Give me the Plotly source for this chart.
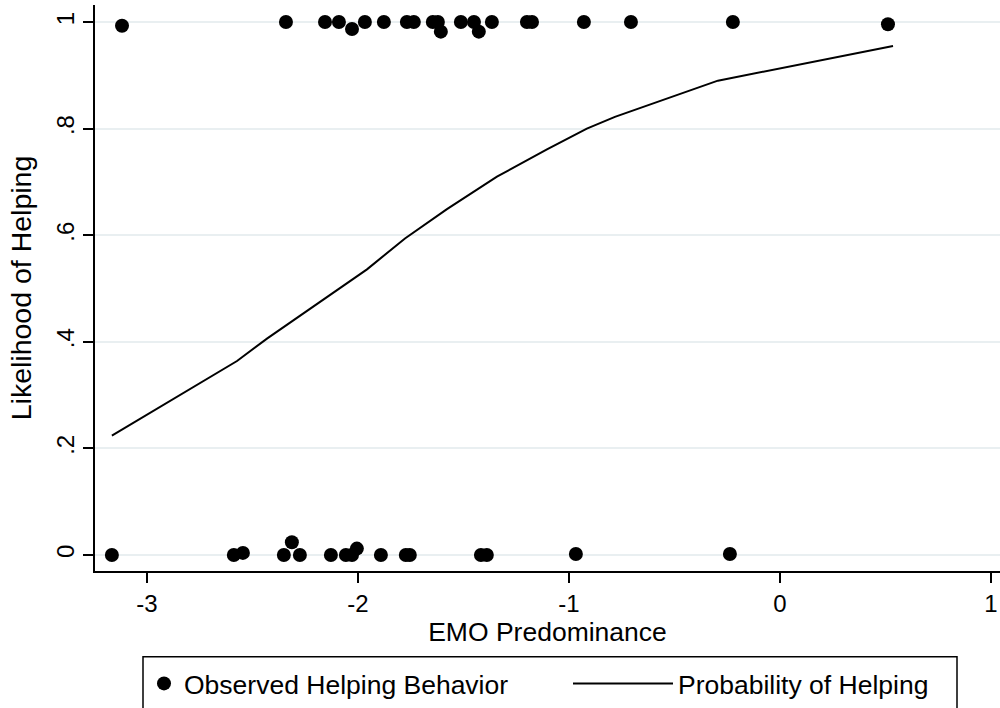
import plotly.graph_objects as go

# Observed helping behaviour (jittered display positions)
helped_x = [-3.118, -2.341, -2.156, -2.090, -2.028, -1.967, -1.877, -1.768, -1.735,
            -1.645, -1.621, -1.607, -1.512, -1.450, -1.427, -1.365, -1.199, -1.175,
            -0.929, -0.706, -0.223, 0.512]
helped_y = [0.993, 1.0, 1.0, 1.0, 0.987, 1.0, 1.0, 1.0, 1.0,
            1.0, 1.0, 0.982, 1.0, 1.0, 0.982, 1.0, 1.0, 1.0,
            1.0, 1.0, 1.0, 0.996]

not_helped_x = [-3.166, -2.588, -2.545, -2.351, -2.313, -2.275, -2.128, -2.057, -2.028,
                -2.005, -1.891, -1.773, -1.754, -1.417, -1.389, -0.967, -0.237]
not_helped_y = [0.0, 0.0, 0.004, 0.0, 0.024, 0.0, 0.0, 0.0, 0.0,
                0.012, 0.0, 0.0, 0.0, 0.0, 0.0, 0.002, 0.002]

# Predicted probability of helping
prob_x = [-3.166, -2.573, -2.431, -2.147, -1.957, -1.777, -1.578, -1.341, -1.104,
          -0.915, -0.782, -0.294, 0.536]
prob_y = [0.224, 0.364, 0.406, 0.484, 0.536, 0.594, 0.649, 0.710, 0.761,
          0.800, 0.822, 0.890, 0.955]

x_ticks = [-3, -2, -1, 0, 1]
y_ticks = [0, 0.2, 0.4, 0.6, 0.8, 1]
y_tick_text = ["0", ".2", ".4", ".6", ".8", "1"]

FONT = "Liberation Sans, Arial, Helvetica, sans-serif"

fig = go.Figure()
fig.add_trace(go.Scatter(
    x=helped_x + not_helped_x, y=helped_y + not_helped_y,
    mode="markers", name="Observed Helping Behavior",
    marker=dict(color="black", size=14, line=dict(width=0)),
    legend="legend",
))
fig.add_trace(go.Scatter(
    x=prob_x, y=prob_y, mode="lines", name="Probability of Helping",
    line=dict(color="black", width=2),
    legend="legend2",
))

W, H = 1000, 708
ml, mr, mt, mb = 95, 0, 5, 135
pw, ph = W - ml - mr, H - mt - mb


def px_to_paper_x(px):
    return (px - ml) / pw


def px_to_paper_y(py):
    return (H - mb - py) / ph


fig.update_layout(
    width=W, height=H,
    margin=dict(l=ml, r=mr, t=mt, b=mb, pad=0),
    paper_bgcolor="white", plot_bgcolor="white",
    font=dict(family=FONT, color="black", size=24),
    xaxis=dict(
        range=[-3.246, 1.043], tickvals=x_ticks,
        ticktext=[str(v) for v in x_ticks],
        showgrid=False, zeroline=False,
        showline=True, linecolor="black", linewidth=1.5,
        ticks="outside", ticklen=10, tickwidth=1.5, tickcolor="black",
        tickfont=dict(size=24),
        title=dict(text="EMO Predominance", font=dict(size=26.5), standoff=7),
    ),
    yaxis=dict(
        range=[-0.030, 1.032], tickvals=y_ticks, ticktext=y_tick_text,
        tickangle=-90,
        showgrid=True, gridcolor="#e9eff1", gridwidth=1.5,
        zeroline=False,
        showline=True, linecolor="black", linewidth=1.5,
        ticks="outside", ticklen=10, tickwidth=1.5, tickcolor="black",
        tickfont=dict(size=24),
        title=dict(text="Likelihood of Helping", font=dict(size=28.5), standoff=12),
    ),
    showlegend=True,
    legend=dict(
        x=px_to_paper_x(144), y=px_to_paper_y(662), xanchor="left", yanchor="top",
        orientation="h", itemwidth=30, borderwidth=0,
        bgcolor="rgba(0,0,0,0)", font=dict(size=26.5),
    ),
    legend2=dict(
        x=px_to_paper_x(568), y=px_to_paper_y(662), xanchor="left", yanchor="top",
        orientation="h", itemwidth=100, borderwidth=0,
        bgcolor="rgba(0,0,0,0)", font=dict(size=26.5),
    ),
    shapes=[dict(
        type="rect", xref="paper", yref="paper",
        x0=px_to_paper_x(143), x1=px_to_paper_x(957),
        y0=px_to_paper_y(659), y1=px_to_paper_y(720),
        line=dict(color="black", width=1.5), fillcolor="rgba(0,0,0,0)",
        layer="above",
    )],
)

fig.write_html("out.html")
